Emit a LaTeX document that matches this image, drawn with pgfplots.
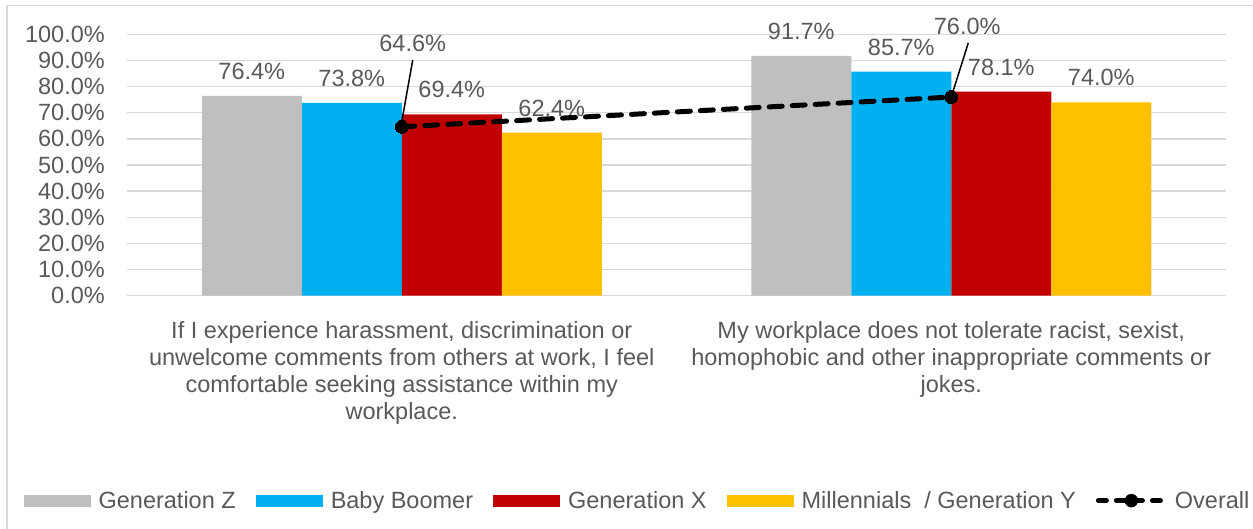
\documentclass[border=0pt]{standalone}
\usepackage{pgfplots}
\pgfplotsset{compat=1.18}
\usepackage{fontspec}
\setmainfont{Liberation Sans}
\definecolor{cgray}{HTML}{BFBFBF}
\definecolor{cblue}{HTML}{00B0F0}
\definecolor{cred}{HTML}{C00000}
\definecolor{cyel}{HTML}{FFC000}
\definecolor{gridc}{HTML}{D9D9D9}
\definecolor{txt}{HTML}{595959}
\newcommand{\cf}{\fontsize{23.5}{27}\selectfont}
\pgfplotsset{
  common/.style={
    at={(127pt,233.3pt)}, anchor=south west,
    scale only axis, width=1099pt, height=261.4pt,
    xmin=-0.5, xmax=1.5, ymin=0, ymax=100,
    clip=false,
    axis line style={draw=none},
    tick style={draw=none},
  },
}
\begin{document}
\begin{tikzpicture}
\path[use as bounding box] (0pt,0pt) rectangle (1253pt,529pt);
\clip (0pt,0pt) rectangle (1253pt,529pt);
\draw[gridc, line width=1.5pt] (7pt,523.5pt) rectangle (1280pt,-20pt);
\begin{axis}[
  common,
  ybar=0pt, bar width=100pt,
  ymajorgrids, major grid style={color=gridc, line width=1.5pt},
  ytick={0,10,...,100},
  yticklabel={\pgfmathprintnumber[fixed,fixed zerofill,precision=1]{\tick}\%},
  yticklabel style={font=\cf, text=txt, inner sep=0pt, xshift=-22pt},
  xtick={0,1},
  xticklabels={{If I experience harassment, discrimination or\\unwelcome comments from others at work, I feel\\comfortable seeking assistance within my\\workplace.},{My workplace does not tolerate racist, sexist,\\homophobic and other inappropriate comments or\\jokes.}},
  xticklabel style={font=\cf, text=txt, align=center, anchor=north, inner sep=0pt, yshift=-21pt},
  /pgf/number format/assume math mode=true,
  nodes near coords={\pgfmathprintnumber[fixed,fixed zerofill,precision=1]{\pgfplotspointmeta}\%},
  every node near coord/.append style={font=\cf, text=txt, anchor=base, yshift=16.5pt, inner sep=0pt},
  legend columns=5,
  legend style={draw=none, fill=none, font=\cf, text=txt, at={(0.4645,-0.784)}, anchor=center,
    /tikz/every odd column/.append style={column sep=6pt},
    /tikz/every even column/.append style={column sep=18pt}},
]
\addplot[fill=cgray, draw=none,
  legend image code/.code={\fill[cgray] (0pt,-6pt) rectangle (67pt,6pt);}]
  coordinates {(0,76.4) (1,91.7)};
\addlegendentry{Generation Z}
\addplot[fill=cblue, draw=none,
  legend image code/.code={\fill[cblue] (0pt,-6pt) rectangle (67pt,6pt);}]
  coordinates {(0,73.8) (1,85.7)};
\addlegendentry{Baby Boomer}
\addplot[fill=cred, draw=none,
  legend image code/.code={\fill[cred] (0pt,-6pt) rectangle (67pt,6pt);}]
  coordinates {(0,69.4) (1,78.1)};
\addlegendentry{Generation X}
\addplot[fill=cyel, draw=none,
  legend image code/.code={\fill[cyel] (0pt,-6pt) rectangle (67pt,6pt);}]
  coordinates {(0,62.4) (1,74.0)};
\addlegendentry{Millennials~~/ Generation Y}
\addlegendimage{legend image code/.code={\draw[black, line width=5pt, line cap=round, dash pattern=on 8pt off 10pt] (2pt,0pt) -- (68pt,0pt); \fill[black] (35pt,0pt) circle (6.5pt);}}
\addlegendentry{Overall}
\end{axis}
\begin{axis}[common, xtick=\empty, ytick=\empty]
\addplot[black, line width=5pt, line cap=round, dash pattern=on 13pt off 10pt,
  mark=*, mark size=6.5pt, mark options={solid, fill=black, line width=0pt}]
  coordinates {(0,64.6) (1,76.0)};
\draw[black, line width=1.5pt] (axis cs:0.02,90.2) -- (axis cs:0,66.6);
\draw[black, line width=1.5pt] (axis cs:1.031,96.7) -- (axis cs:1,76);
\node[font=\cf, text=txt, inner sep=0pt] at (axis cs:0.02,96.7) {64.6\%};
\node[font=\cf, text=txt, inner sep=0pt] at (axis cs:1.029,103.2) {76.0\%};
\end{axis}
\end{tikzpicture}
\end{document}
